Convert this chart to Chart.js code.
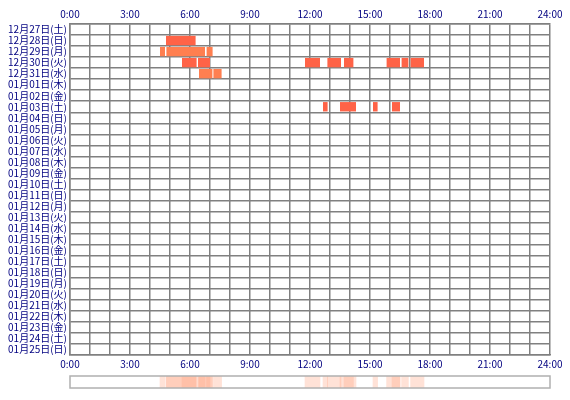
<!DOCTYPE html>
<html>
<head>
<meta charset="utf-8">
<script src="https://cdn.jsdelivr.net/npm/chart.js@4/dist/chart.umd.min.js"></script>
<style>
  body { margin: 0; background: #fff; }
  #main { position: absolute; left: 0; top: 0; width: 570px; height: 380px; }
  #strip { position: absolute; left: 0; top: 372px; width: 570px; height: 28px; }
</style>
</head>
<body>
<div id="main"><canvas id="mainChart"></canvas></div>
<div id="strip"><canvas id="stripChart"></canvas></div>
<script>
// day labels (rows)
const days = [
  '12月27日(土)', '12月28日(日)', '12月29日(月)', '12月30日(火)', '12月31日(水)',
  '01月01日(木)', '01月02日(金)', '01月03日(土)', '01月04日(日)', '01月05日(月)',
  '01月06日(火)', '01月07日(水)', '01月08日(木)', '01月09日(金)', '01月10日(土)',
  '01月11日(日)', '01月12日(月)', '01月13日(火)', '01月14日(水)', '01月15日(木)',
  '01月16日(金)', '01月17日(土)', '01月18日(日)', '01月19日(月)', '01月20日(火)',
  '01月21日(水)', '01月22日(木)', '01月23日(金)', '01月24日(土)', '01月25日(日)',
];

// sessions: day row, start hour, end hour
const sessionDays = [1, 2, 2, 2, 3, 3, 3, 3, 3, 3, 3, 3, 4, 4, 7, 7, 7, 7];
const sessionStart = [4.8, 4.5, 4.82, 6.83, 5.6, 6.4, 11.75, 12.87, 13.7, 15.83, 16.58, 17.03, 6.45, 7.17, 12.65, 13.5, 15.15, 16.1];
const sessionEnd = [6.28, 4.75, 6.75, 7.13, 6.33, 7.0, 12.5, 13.55, 14.17, 16.5, 16.92, 17.7, 7.12, 7.58, 12.88, 14.3, 15.38, 16.5];
const sessionColors = ['#ff6347', '#ff7f50', '#ff7f50', '#ff7f50', '#ff6347', '#ff6347', '#ff6347', '#ff6347', '#ff6347', '#ff6347', '#ff6347', '#ff6347', '#ff7f50', '#ff7f50', '#ff6347', '#ff6347', '#ff6347', '#ff6347'];

const navy = '#000080';
const tickFont = { family: 'Noto Sans CJK JP', size: 10 };
const hourLabel = v => (v % 3 === 0 ? v + ':00' : '');

const mainData = sessionDays.map((d, i) => ({ y: days[d], x: [sessionStart[i], sessionEnd[i]] }));

new Chart(document.getElementById('mainChart'), {
    type: 'bar',
    data: {
        labels: days,
        datasets: [{
            data: mainData,
            backgroundColor: sessionColors,
            categoryPercentage: 1,
            barPercentage: 0.85,
            grouped: false,
        }],
    },
    options: {
        indexAxis: 'y',
        responsive: true,
        maintainAspectRatio: false,
        animation: false,
        layout: { padding: { right: 20, top: 0 } },
        plugins: { legend: { display: false }, tooltip: { enabled: false } },
        scales: {
            y: {
                type: 'category',
                labels: days,
                grid: { color: '#808080', lineWidth: 1.5, drawTicks: false, offset: true },
                border: { color: '#808080', width: 1.5 },
                ticks: { color: navy, font: tickFont, padding: 3, autoSkip: false },
                afterFit: s => { s.width = 70; },
            },
            x: {
                type: 'linear', position: 'top', min: 0, max: 24,
                grid: { color: '#808080', lineWidth: 1.5, drawTicks: false },
                border: { color: '#808080', width: 1.5 },
                ticks: { stepSize: 1, color: navy, font: tickFont, padding: 4, maxRotation: 0, autoSkip: false, callback: hourLabel },
                afterFit: s => { s.height = 24; },
            },
            x2: {
                type: 'linear', position: 'bottom', min: 0, max: 24,
                grid: { display: false, drawTicks: false },
                border: { color: '#808080', width: 1.5 },
                ticks: { stepSize: 1, color: navy, font: tickFont, padding: 3, maxRotation: 0, autoSkip: false, callback: hourLabel },
                afterFit: s => { s.height = 25; },
            },
        },
    },
});

// overview strip: all sessions overlaid faintly
const stripData = sessionStart.map((s, i) => ({ y: 'all', x: [s, sessionEnd[i]] }));

new Chart(document.getElementById('stripChart'), {
    type: 'bar',
    data: {
        labels: ['all'],
        datasets: [{
            data: stripData,
            backgroundColor: 'rgba(255, 160, 122, 0.3)',
            categoryPercentage: 1,
            barPercentage: 1,
            grouped: false,
        }],
    },
    options: {
        indexAxis: 'y',
        responsive: true,
        maintainAspectRatio: false,
        animation: false,
        layout: { padding: { left: 70, right: 20, top: 4, bottom: 12 } },
        plugins: { legend: { display: false }, tooltip: { enabled: false } },
        scales: {
            y: { type: 'category', display: false },
            x: { type: 'linear', min: 0, max: 24, display: false },
        },
    },
    plugins: [{
        id: 'frame',
        afterDraw(chart) {
            const a = chart.chartArea, c = chart.ctx;
            c.save();
            c.strokeStyle = '#b0b0b0';
            c.lineWidth = 1.5;
            c.strokeRect(a.left, a.top, a.right - a.left, a.bottom - a.top);
            c.restore();
        },
    }],
});
</script>
</body>
</html>
